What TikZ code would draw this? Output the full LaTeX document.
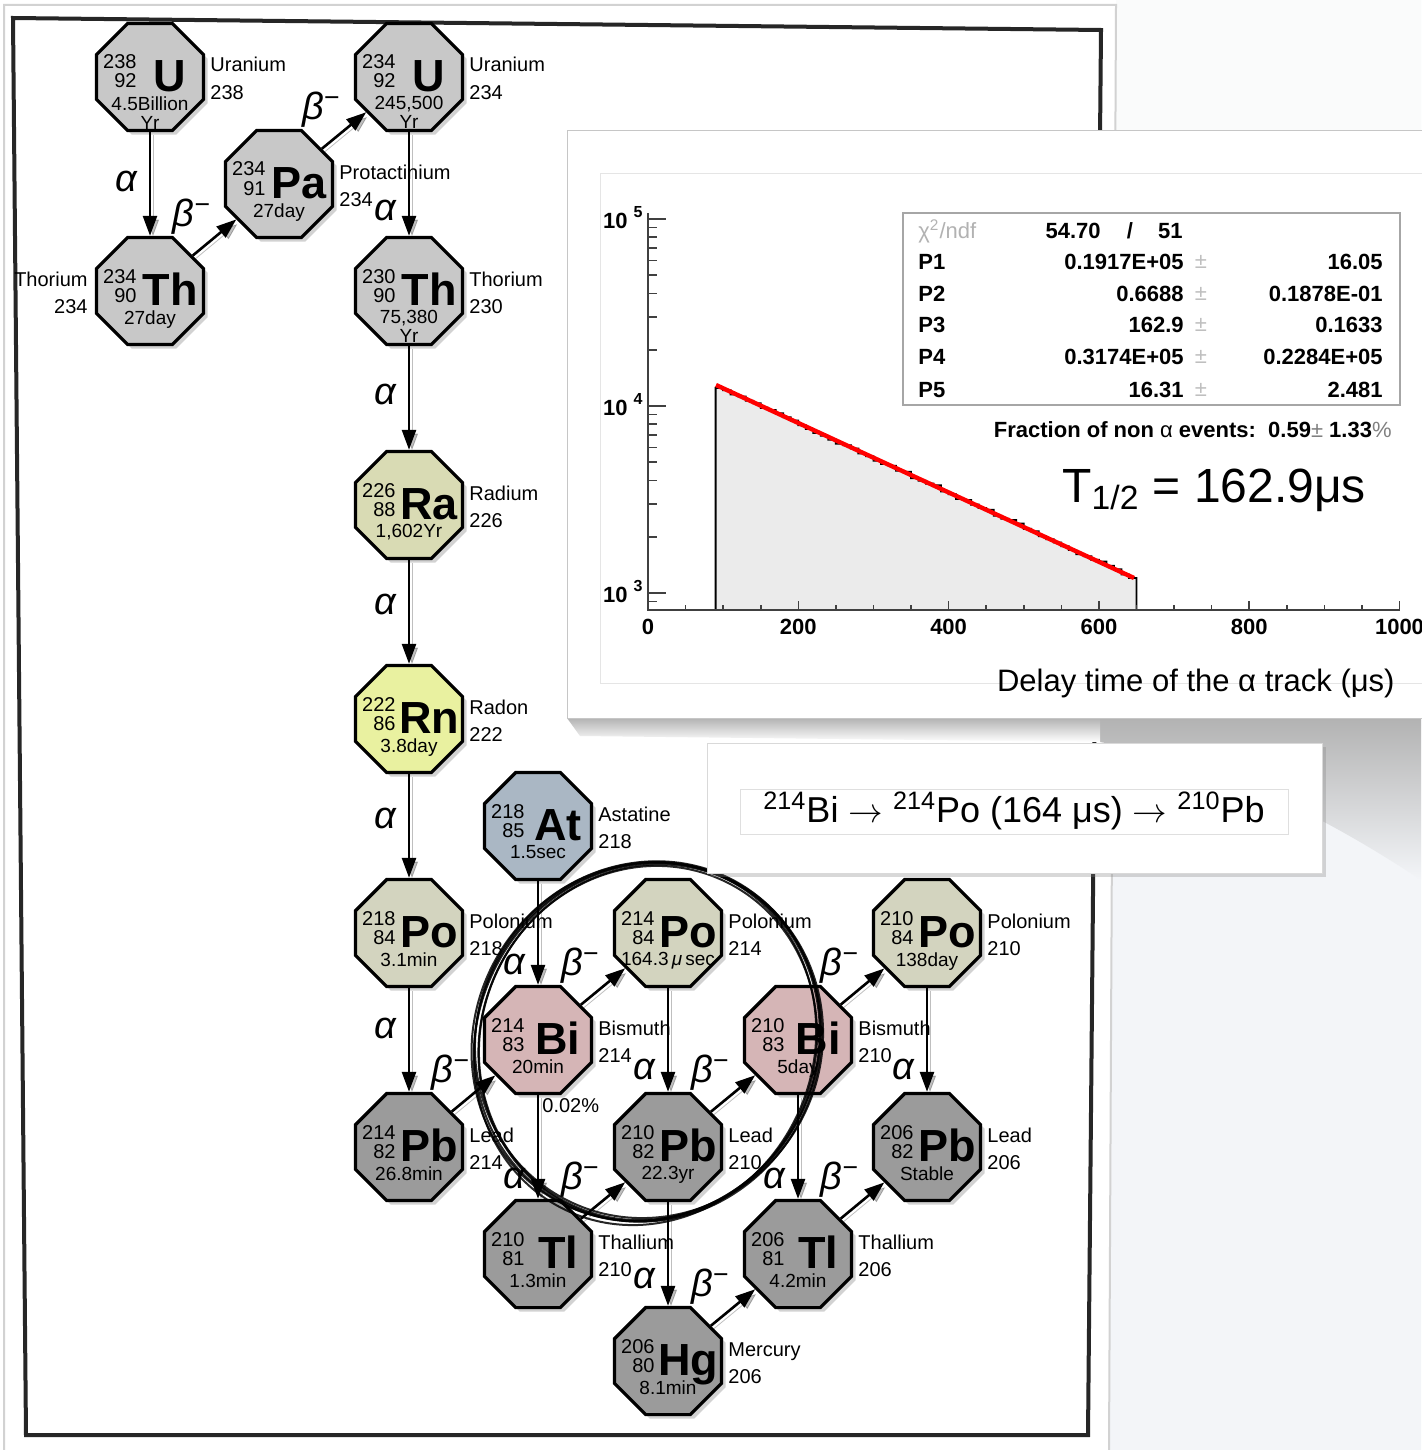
\documentclass[tikz,border=0pt]{standalone}
\usepackage{fontspec}
\setmainfont{Liberation Sans}
\usetikzlibrary{shapes.geometric,arrows.meta,shadows,positioning}

\definecolor{grU}{HTML}{C8C8C8}
\definecolor{raC}{HTML}{D9DBB4}
\definecolor{rnC}{HTML}{E9F1A0}
\definecolor{atC}{HTML}{AAB7C4}
\definecolor{poC}{HTML}{D3D4BF}
\definecolor{biC}{HTML}{D5B5B6}
\definecolor{pbC}{HTML}{9B9B9B}
\definecolor{pagebg}{HTML}{F3F5F8}
\definecolor{pagetop}{HTML}{FAFBFB}
\definecolor{histC}{HTML}{EBEBEB}

\tikzset{
  nuc/.style={regular polygon, regular polygon sides=8, minimum size=58pt, inner sep=0pt,
    draw=black, line width=1.6pt, drop shadow={shadow xshift=2pt, shadow yshift=-2pt, opacity=.35}},
  nucnum/.style={anchor=base east, inner sep=0pt, font=\fontsize{10}{12}\selectfont},
  nucsym/.style={anchor=base, inner sep=0pt, font=\fontsize{22.5}{24}\selectfont\bfseries},
  nuchl/.style={anchor=north, inner sep=0pt, align=center, font=\fontsize{9.5}{9.5}\selectfont},
  nucname/.style={inner sep=0pt, font=\fontsize{10}{12}\selectfont},
  decay/.style={line width=1.3pt, -{Triangle[length=10pt,width=7pt]},
    preaction={draw=black, opacity=.25, transform canvas={xshift=1.5pt,yshift=-1.5pt}}},
  alab/.style={inner sep=0pt, font=\fontsize{19}{20}\selectfont\itshape},
  blab/.style={inner sep=1pt, font=\fontsize{19}{20}\selectfont\itshape},
  sketch/.style={line width=1pt, black, opacity=.85},
  axisline/.style={line width=.8pt, black!75},
  statb/.style={inner sep=0pt, font=\fontsize{11}{13}\selectfont\bfseries},
  statpm/.style={inner sep=0pt, gray!50, font=\fontsize{11}{13}\selectfont}
}

\begin{document}
\begin{tikzpicture}[x=0.5pt,y=-0.5pt]
\useasboundingbox (0,0) rectangle (1421,1450);
% page and frame
\fill[white] (0,0) rectangle (1421,1450);
\fill[pagebg] (1116,0) -- (1421,0) -- (1421,1450) -- (1109,1450) -- cycle;
\fill[pagetop] (1116,0) rectangle (1421,130);
\draw[gray!35, line width=1pt] (4,1450) -- (4,5) -- (1116,5) -- (1109,1450);
\draw[line width=2pt, black!85] (13,18) -- (1101,30) -- (1088,1435) -- (26,1435) -- cycle;

% nuclides
\foreach \nm/\x/\y/\A/\Z/\sym/\hl/\col in {
  u238/150/77/238/92/U/{4.5Billion\\Yr}/grU,
  pa234/279/184/234/91/Pa/27day/grU,
  u234/409/77/234/92/U/{245,500\\Yr}/grU,
  th234/150/291/234/90/Th/27day/grU,
  th230/409/291/230/90/Th/{75,380\\Yr}/grU,
  ra226/409/505/226/88/Ra/{1,602Yr}/raC,
  rn222/409/719/222/86/Rn/3.8day/rnC,
  at218/538/826/218/85/At/1.5sec/atC,
  po218/409/933/218/84/Po/3.1min/poC,
  bi214/538/1040/214/83/Bi/20min/biC,
  po214/668/933/214/84/Po/{164.3\,\textit{μ}\,sec}/poC,
  pb214/409/1147/214/82/Pb/26.8min/pbC,
  pb210/668/1147/210/82/Pb/22.3yr/pbC,
  bi210/798/1040/210/83/Bi/5day/biC,
  po210/927/933/210/84/Po/138day/poC,
  tl210/538/1254/210/81/Tl/1.3min/pbC,
  pb206/927/1147/206/82/Pb/Stable/pbC,
  tl206/798/1254/206/81/Tl/4.2min/pbC,
  hg206/668/1361/206/80/Hg/8.1min/pbC} {
  \node[nuc, fill=\col] (\nm) at (\x,\y) {};
  \node[nucnum] at (\x-13,\y-8) {\A};
  \node[nucnum] at (\x-13,\y+11) {\Z};
  \node[nucsym] at (\x+20,\y+14) {\sym};
  \node[nuchl] at (\x,\y+19) {\hl};
}

% element names
\foreach \x/\y/\ename/\mass in {150/77/Uranium/238, 279/184/Protactinium/234,
  409/77/Uranium/234, 409/291/Thorium/230, 409/505/Radium/226, 409/719/Radon/222,
  538/826/Astatine/218, 409/933/Polonium/218, 538/1040/Bismuth/214,
  668/933/Polonium/214, 409/1147/Lead/214, 668/1147/Lead/210, 798/1040/Bismuth/210,
  927/933/Polonium/210, 538/1254/Thallium/210, 927/1147/Lead/206,
  798/1254/Thallium/206, 668/1361/Mercury/206} {
  \node[nucname, anchor=base west] at (\x+60,\y-5) {\ename};
  \node[nucname, anchor=base west] at (\x+60,\y+22) {\mass};
}
\node[nucname, anchor=base east] at (88,286) {Thorium};
\node[nucname, anchor=base east] at (88,313) {234};

% alpha decays
\foreach \a/\b/\p in {u238/th234/.48, u234/th230/.76, th230/ra226/.47, ra226/rn222/.43,
  rn222/po218/.43, po218/pb214/.39, at218/bi214/.8, po214/pb210/.78, bi214/tl210/.8,
  bi210/tl206/.8, po210/pb206/.78, pb210/hg206/.74}
  \draw[decay] (\a) -- (\b) node[pos=\p, left=6pt, alab] {α};
\path (bi214) -- (tl210) node[pos=.1, anchor=west, xshift=2pt, nucname] {0.02\%};

% beta decays
\foreach \a/\b in {th234/pa234, pa234/u234, pb214/bi214, bi214/po214, tl210/pb210,
  pb210/bi210, bi210/po210, hg206/tl206, tl206/pb206}
  \draw[decay] (\a) -- (\b) node[midway, anchor=south east, blab] {β\textsuperscript{\upshape −}};

% hand drawn ring
\foreach \dx/\dy/\ra/\rb/\rot in {0/0/182/170/62, 2/-2/180/172/60, -2/2/184/168/64,
  1/1/179/167/66, -1/-1/183/171/58, 3/1/181/169/63}
  \draw[sketch] (647+\dx,1042+\dy) ellipse [x radius=\ra, y radius=\rb, rotate=\rot];

% panel shadows
\shade[top color=black!30, bottom color=pagebg] (1100,718) -- (1421,718) -- (1421,880)
  .. controls (1300,800) and (1200,760) .. (1100,742) -- cycle;
\shade[top color=black!30, bottom color=white] (567,718) -- (1100,718) -- (1100,742) -- (580,736) -- cycle;

% plot panel
\filldraw[fill=white, draw=gray!45] (567,130) rectangle (1440,718);
\draw[gray!20] (600,173) rectangle (1440,683);

% histogram and fit
\pgfmathsetseed{11}
\filldraw[fill=histC, draw=black, line width=.9pt] (715.6,610)
  \foreach \k [evaluate=\k as \hy using 386.7+3.456*\k+1.8*rand] in {0,...,55}
  { -- (715.6+7.515*\k,\hy) -- (723.115+7.515*\k,\hy) } -- (1136.4,610) -- cycle;
\draw[red, line width=2.2pt] (716,385) -- (1134,578);

% axes
\draw[axisline] (648,213) -- (648,610) -- (1400,610);
\foreach \yy in {219,406,593} \draw[axisline] (648,\yy) -- ++(18,0);
\foreach \d in {3,4} \foreach \m in {2,...,9}
  \draw[axisline] (648,{593-187*(\d-3+log10(\m))}) -- ++(9,0);
\draw[axisline] (648,601.6) -- ++(9,0);
\foreach \t in {0,50,...,1000} \draw[axisline] (648+0.7515*\t,610) -- ++(0,-5);
\foreach \t in {0,200,...,1000} {
  \draw[axisline] (648+0.7515*\t,610) -- ++(0,-9);
  \node[statb] at (648+0.7515*\t,627) {\t};
}
\foreach \yy/\ex in {221/5,408/4,595/3} {
  \node[statb, anchor=east] at (628,\yy) {10};
  \node[inner sep=0pt, font=\fontsize{8}{9}\selectfont\bfseries] at (638,\yy-9) {\ex};
}

% fit statistics
\draw[gray!70, line width=.6pt] (903,213) rectangle (1400,405);
\node[inner sep=0pt, anchor=west, gray!60, font=\fontsize{11}{13}\selectfont] at (918,231) {χ\textsuperscript{2}/ndf};
\node[statb, anchor=east] at (1101,231) {54.70};
\node[statb] at (1130,231) {/};
\node[statb, anchor=east] at (1183,231) {51};
\foreach \row/\yy/\val/\err in {P1/262/0.1917E+05/16.05, P2/294/0.6688/0.1878E-01,
  P3/325/162.9/0.1633, P4/357/0.3174E+05/0.2284E+05, P5/390/16.31/2.481} {
  \node[statb, anchor=west] at (918,\yy) {\row};
  \node[statb, anchor=east] at (1184,\yy) {\val};
  \node[statpm] at (1201,\yy) {±};
  \node[statb, anchor=east] at (1383,\yy) {\err};
}
\node[statb, anchor=east, font=\fontsize{11}{13}\selectfont\bfseries] at (1392,430)
  {Fraction of non \textmd{α} events:\ \ 0.59\textcolor{gray}{\textmd{±}} 1.33\textcolor{gray}{\textmd{\%}}};
\node[inner sep=0pt, anchor=west, font=\fontsize{24}{28}\selectfont] at (1062,490) {T\textsubscript{1/2} = 162.9μs};
\node[inner sep=0pt, anchor=east, font=\fontsize{15.5}{17}\selectfont] at (1395,683) {Delay time of the α track (μs)};

% decay sequence panel
\filldraw[fill=white, draw=gray!30, drop shadow={shadow xshift=2pt, shadow yshift=-2pt, opacity=.3}] (707,743) rectangle (1322,873);
\draw[gray!25] (740,789) rectangle (1288,834);
\node[inner sep=0pt, font=\fontsize{18}{20}\selectfont] at (1014,811)
  {\textsuperscript{214}Bi $\rightarrow$ \textsuperscript{214}Po (164 μs) $\rightarrow$ \textsuperscript{210}Pb};
\end{tikzpicture}
\end{document}
